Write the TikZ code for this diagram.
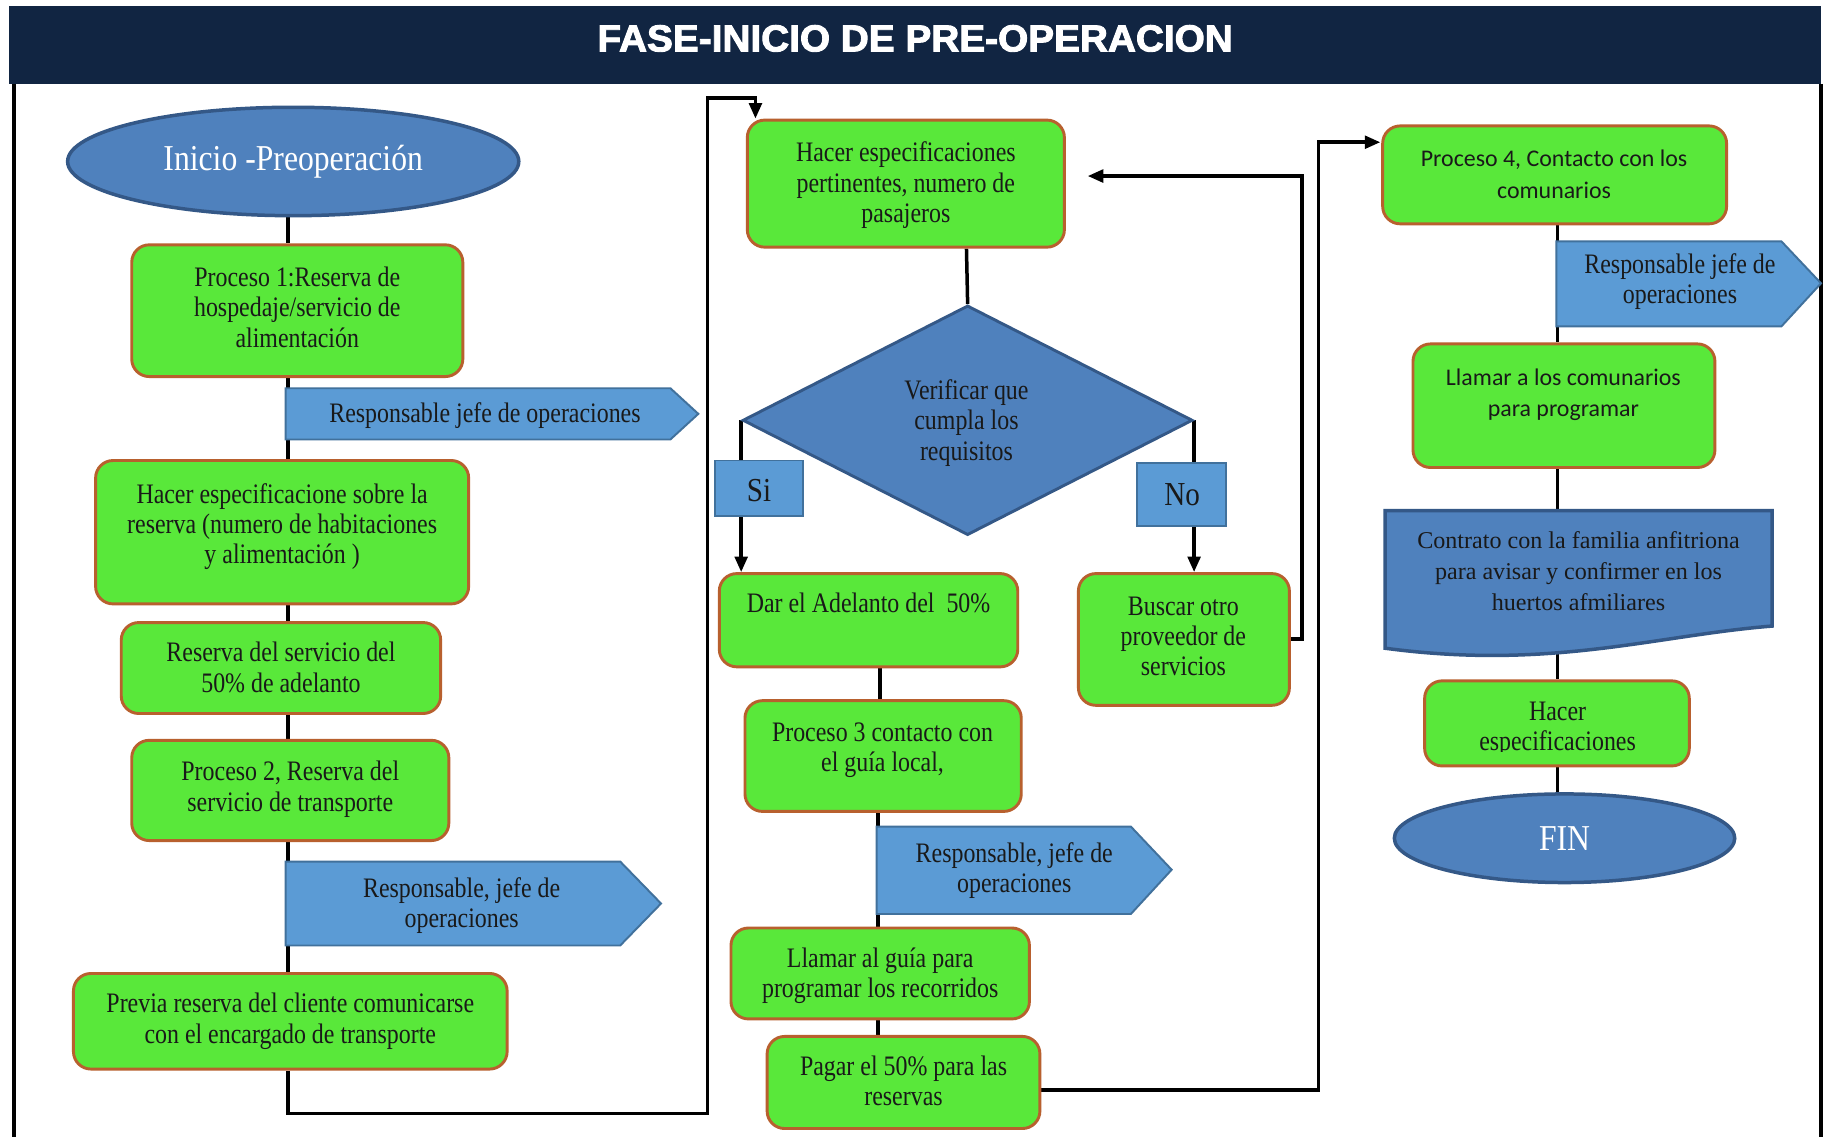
\documentclass[tikz,border=0pt]{standalone}
\usepackage{graphicx}
\usepackage{fontspec}
\setmainfont{Liberation Serif}
\newfontfamily\calib{Carlito}
\newfontfamily\ttlfont{Liberation Sans}[BoldFeatures={FakeBold=2.5}]
\usetikzlibrary{shapes.geometric,fit,arrows.meta,backgrounds}
\pgfdeclarelayer{back}
\pgfsetlayers{back,background,main}
\definecolor{gfill}{RGB}{89,232,58}
\definecolor{gedge}{RGB}{184,96,46}
\definecolor{dblue}{RGB}{79,129,189}
\definecolor{dedge}{RGB}{52,88,135}
\definecolor{lblue}{RGB}{91,155,213}
\definecolor{ledge}{RGB}{65,113,156}
\definecolor{navy}{RGB}{17,37,66}
\newcommand\vs[1]{\scalebox{1}[1.18]{\begin{tabular}{@{}c@{}}#1\end{tabular}}}
\begin{document}
\begin{tikzpicture}[x=0.6pt,y=-0.6pt,
 gbox/.style={draw=gedge,fill=gfill,line width=1.5pt,rounded corners=9pt,inner sep=0pt},
 txt/.style={align=center,font=\fontsize{12.3}{13.2}\selectfont,text=black!90,inner sep=0pt,yshift=-1.5pt},
 dtxt/.style={align=center,font=\fontsize{12.4}{16}\selectfont,text=black!90,inner sep=0pt},
 stxt/.style={align=center,font=\calib\fontsize{12.3}{16.2}\selectfont,text=black!90,inner sep=0pt},
 oval/.style={ellipse,draw=dedge,fill=dblue,line width=1.8pt,inner sep=0pt,text=white,font=\fontsize{16.3}{18}\selectfont},
 pentst/.style={draw=ledge,fill=lblue,line width=1pt},
 lab/.style={draw=ledge,fill=lblue,line width=1pt,inner sep=0pt},
 labt/.style={font=\fontsize{15}{18}\selectfont,text=black!90,inner sep=0pt},
 conn/.style={line width=1.8pt},
 arr/.style={conn,-{Triangle[length=8pt,width=6.5pt]}},
]
\useasboundingbox (0,0) rectangle (1568,975);
\begin{pgfonlayer}{back}
\fill[white] (0,0) rectangle (1568,975);
\end{pgfonlayer}

% banner and frame
\fill[navy] (8,5) rectangle (1562,72);
\node[text=white,font=\ttlfont\bfseries,inner sep=0pt] (title) at (785,33) {\resizebox{327pt}{13.5pt}{FASE-INICIO DE PRE-OPERACION}};
\draw[line width=1.8pt] (12,72) -- (12,975);
\draw[line width=2pt] (1562,72) -- (1562,975);

% left column
\node[oval,minimum width=232.2pt,minimum height=55.8pt] (ini) at (251.5,138.5) {\scalebox{1}[1.15]{Inicio -Preoperación}};
\node[gbox,fit={(113,210)(397,323)}] (b1) {};
\node[txt] (t1) at (255,264) {\vs{Proceso 1:Reserva de\\hospedaje/servicio de\\alimentación}};
\draw[pentst] (245,333) -- (575,333) -- (599,355) -- (575,377) -- (245,377) -- cycle;
\node[txt] (p1) at (416,355) {\vs{Responsable jefe de operaciones}};
\node[gbox,fit={(82,395)(402,518)}] (b2) {};
\node[txt] (t2) at (242,450) {\vs{Hacer especificacione sobre la\\reserva (numero de habitaciones\\y alimentación )}};
\node[gbox,fit={(104,534)(378,612)}] (b3) {};
\node[txt] (t3) at (241,573) {\vs{Reserva del servicio del\\50\% de adelanto}};
\node[gbox,fit={(113,635)(385,721)}] (b4) {};
\node[txt] (t4) at (249,675) {\vs{Proceso 2, Reserva del\\servicio de transporte}};
\draw[pentst] (245,739) -- (532,739) -- (567,775) -- (532,811) -- (245,811) -- cycle;
\node[txt] (p2) at (396,775) {\vs{Responsable, jefe de\\operaciones}};
\node[gbox,fit={(63,835)(435,917)}] (b5) {};
\node[txt] (t5) at (249,874) {\vs{Previa reserva del cliente comunicarse\\con el encargado de transporte}};

% middle column
\node[gbox,fit={(641,103)(913,212)}] (b6) {};
\node[txt] (t6) at (777,157) {\vs{Hacer especificaciones\\pertinentes, numero de\\pasajeros}};
\node[diamond,draw=dedge,fill=dblue,line width=1.5pt,minimum width=231.6pt,minimum height=118.2pt,inner sep=0pt] (dia) at (830,360.5) {};
\node[txt] (diat) at (829,361) {\vs{Verificar que\\cumpla los\\requisitos}};
\node[gbox,fit={(617,492)(873,572)}] (b7) {};
\node[txt] (t7) at (745,518) {\vs{Dar el Adelanto del~~50\%}};
\node[gbox,fit={(925,492)(1106,605)}] (b8) {};
\node[txt] (t8) at (1015,546) {\vs{Buscar otro\\proveedor de\\servicios}};
\node[gbox,fit={(639,601)(876,696)}] (b9) {};
\node[txt] (t9) at (757,641) {\vs{Proceso 3 contacto con\\el guía local,}};
\draw[pentst] (752,709) -- (970,709) -- (1005,746) -- (970,784) -- (752,784) -- cycle;
\node[txt] (p3) at (870,745) {\vs{Responsable, jefe de\\operaciones}};
\node[gbox,fit={(627,796)(883,874)}] (b10) {};
\node[txt] (t10) at (755,835) {\vs{Llamar al guía para\\programar los recorridos}};
\node[gbox,fit={(658,889)(892,968)}] (b11) {};
\node[txt] (t11) at (775,928) {\vs{Pagar el 50\% para las\\reservas}};

% right column
\node[gbox,fit={(1186,108)(1481,192)}] (b12) {};
\node[stxt] (t12) at (1333,149.5) {Proceso 4, Contacto con los\\comunarios};
\draw[pentst] (1335,207) -- (1528,207) -- (1562,243) -- (1528,280) -- (1335,280) -- cycle;
\node[txt] (p4) at (1441,240) {\vs{Responsable jefe de\\operaciones}};
\node[gbox,fit={(1212,295)(1471,401)}] (b13) {};
\node[stxt] (t13) at (1341,338.5) {Llamar a los comunarios\\para programar};
\draw[draw=dedge,fill=dblue,line width=1.8pt] (1188,438) -- (1520,438) -- (1520,537) .. controls (1420,545) and (1330,575) .. (1188,556) -- cycle;
\node[dtxt] (doc) at (1354,490) {Contrato con la familia anfitriona\\para avisar y confirmer en los\\huertos afmiliares};
\node[gbox,fit={(1222,584)(1449,657)}] (b14) {};
\begin{scope}
\clip (1222,584) rectangle (1449,645);
\node[txt] (t14) at (1336,623) {\vs{Hacer\\especificaciones}};
\end{scope}
\node[oval,minimum width=175.2pt,minimum height=45.6pt] (fin) at (1342,719) {\scalebox{1}[1.15]{FIN}};

% Si / No labels
\node[lab,fit={(613,395)(689,443)}] (si) {};
\node[labt] (sit) at (651,421) {\scalebox{1}[1.15]{Si}};
\node[lab,fit={(975,397)(1052,451)}] (no) {};
\node[labt] (not) at (1014,424) {\scalebox{1}[1.15]{No}};

% connectors
\begin{scope}[on background layer]
\coordinate (L) at (247,0);
\coordinate (c1) at (607,955);
\coordinate (c2) at (607,84);
\coordinate (A) at (648,0);
\coordinate (M) at (829,0);
\coordinate (M2) at (755,0);
\coordinate (M3) at (753,0);
\coordinate (r1) at (1117,548);
\coordinate (e6) at (933,151);
\coordinate (r2) at (1131,935);
\coordinate (e12) at (1184,122);
\coordinate (R) at (1336,0);
\coordinate (dtop) at (1336,438);
\coordinate (dbot) at (1336,560);
\draw[conn] (ini.center -| L) -- (b1.north -| L);
\draw[conn] (b1.south -| L) -- (b2.north -| L);
\draw[conn] (b2.south -| L) -- (b3.north -| L);
\draw[conn] (b3.south -| L) -- (b4.north -| L);
\draw[conn] (b4.south -| L) -- (b5.north -| L);
\draw[arr] (b5.south -| L) |- (c1) -- (c2) -| (b6.north -| A);
\draw[conn] (b6.south -| M) -- (dia.north);
\draw[arr] (dia.west) -- (dia.west |- b7.north);
\draw[arr] (dia.east) -- (dia.east |- b8.north);
\draw[arr] (b8.east |- r1) -- (r1) |- (e6);
\draw[conn] (b7.south -| M2) -- (b9.north -| M2);
\draw[conn] (b9.south -| M3) -- (b10.north -| M3);
\draw[conn] (b10.south -| M3) -- (b11.north -| M3);
\draw[arr] (b11.east |- r2) -- (r2) |- (e12);
\draw[conn] (b12.south -| R) -- (b13.north -| R);
\draw[conn] (b13.south -| R) -- (dtop);
\draw[conn] (dbot) -- (b14.north -| R);
\draw[conn] (b14.south -| R) -- (fin.center -| R);
\end{scope}
\end{tikzpicture}
\end{document}
